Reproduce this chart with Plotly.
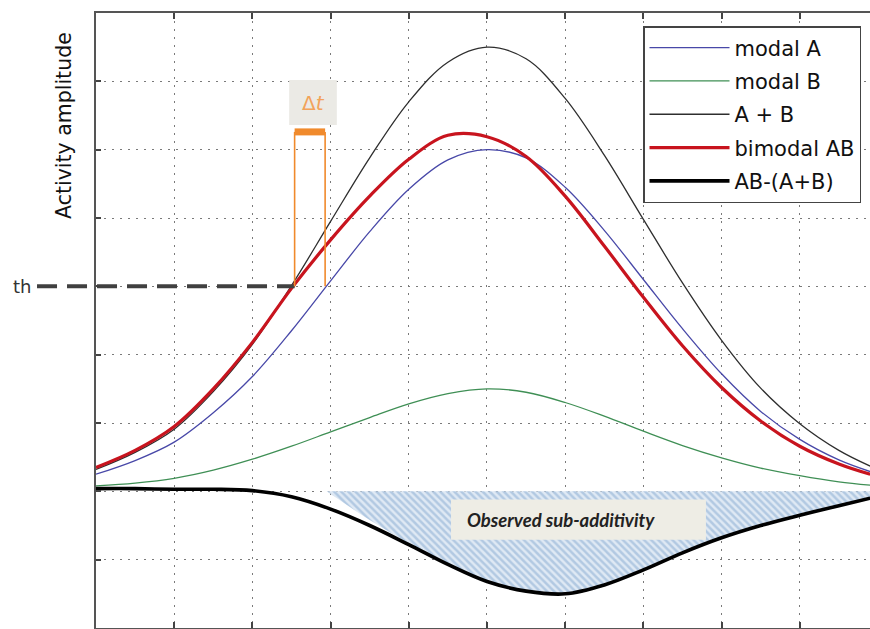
import plotly.graph_objects as go

# ---------------- data ----------------
t = [0, 0.5, 1, 1.5, 2, 2.5, 3, 3.5, 4, 4.5, 5, 5.5, 6, 6.5, 7, 7.5, 8, 8.5, 9, 9.5, 9.9]
modal_A = [0.25, 0.45, 0.72, 1.15, 1.68, 2.35, 3.08, 3.80, 4.42, 4.85, 5.00, 4.88, 4.45, 3.82, 3.10, 2.38, 1.72, 1.17, 0.76, 0.46, 0.29]
modal_B = [0.08, 0.12, 0.19, 0.31, 0.47, 0.66, 0.87, 1.08, 1.28, 1.43, 1.50, 1.45, 1.30, 1.10, 0.88, 0.67, 0.49, 0.34, 0.23, 0.14, 0.09]
A_plus_B = [0.32, 0.57, 0.91, 1.46, 2.15, 3.01, 3.95, 4.88, 5.70, 6.28, 6.50, 6.33, 5.75, 4.92, 3.98, 3.05, 2.21, 1.51, 0.99, 0.60, 0.37]
bimodal_AB = [0.35, 0.60, 0.95, 1.50, 2.18, 2.97, 3.68, 4.32, 4.86, 5.21, 5.19, 4.90, 4.32, 3.59, 2.84, 2.13, 1.52, 1.03, 0.66, 0.40, 0.25]
AB_minus = [0.04, 0.04, 0.03, 0.03, 0.01, -0.08, -0.26, -0.50, -0.78, -1.07, -1.32, -1.46, -1.50, -1.37, -1.15, -0.90, -0.68, -0.50, -0.35, -0.21, -0.10]

# shaded "observed sub-additivity" region
fill_t = [2.95, 3.5, 4.0, 4.5, 5.0, 5.5, 6.0, 6.5, 7.0, 7.5, 8.0, 8.5, 9.0, 9.5, 9.9]
fill_low = [0.0, -0.42, -0.76, -1.06, -1.31, -1.45, -1.49, -1.36, -1.14, -0.89, -0.67, -0.49, -0.34, -0.20, -0.09]
fill_top = [0.0] * len(fill_t)

th = 3.0          # threshold
t_AB = 2.54       # bimodal response crosses th
t_A = 2.93        # modal A crosses th
bar_level = 5.26  # level of the delta-t bracket

names = ["modal A", "modal B", "A + B", "bimodal AB", "AB-(A+B)"]
tick_x = [0, 1, 2, 3, 4, 5, 6, 7, 8, 9]
tick_y = [-2, -1, 0, 1, 2, 3, 4, 5, 6, 7]

# ---------------- layout constants ----------------
X_RANGE = [0, 9.898]
Y_RANGE = [-2, 7]

def px(v):
    return (v - X_RANGE[0]) / (X_RANGE[1] - X_RANGE[0])

def py(v):
    return (v - Y_RANGE[0]) / (Y_RANGE[1] - Y_RANGE[0])

fig = go.Figure()

fig.add_trace(go.Scatter(x=fill_t, y=fill_top, mode="lines", line=dict(width=0),
                         showlegend=False, hoverinfo="skip"))
fig.add_trace(go.Scatter(x=fill_t, y=fill_low, mode="lines", line=dict(width=0, shape="spline"),
                         fill="tonexty", fillcolor="rgba(255,255,255,0)",
                         fillpattern=dict(shape="\\", fgcolor="#86a9d0", bgcolor="#dfe9f4",
                                          size=5, solidity=0.5),
                         showlegend=False, hoverinfo="skip"))

styles = [
    (modal_A, "#4848a8", 1.3, 1),
    (modal_B, "#3f8f55", 1.3, 2),
    (A_plus_B, "#2e2e2e", 1.3, 3),
    (bimodal_AB, "#c8141e", 3.2, 4),
    (AB_minus, "#000000", 3.6, 5),
]
draw_order = [1, 0, 2, 3, 4]
for i in draw_order:
    ys, col, w, rank = styles[i]
    fig.add_trace(go.Scatter(x=t, y=ys, mode="lines", name=names[i],
                             line=dict(color=col, width=w, shape="spline"),
                             legendrank=rank, legendgroup=names[i]))

shapes = []
# threshold dashed line (extends left outside the axes)
shapes.append(dict(type="line", xref="paper", yref="paper",
                   x0=-0.0762, x1=px(t_AB), y0=py(th), y1=py(th),
                   line=dict(color="#404040", width=4, dash="20px,10px"), layer="above"))
# delta-t bracket
orange = "#f08a2c"
shapes.append(dict(type="line", xref="x", yref="y", x0=t_AB, x1=t_AB, y0=th, y1=bar_level,
                   line=dict(color=orange, width=1.6)))
shapes.append(dict(type="line", xref="x", yref="y", x0=t_A, x1=t_A, y0=th, y1=bar_level,
                   line=dict(color=orange, width=1.6)))
shapes.append(dict(type="line", xref="x", yref="y", x0=t_AB, x1=t_A, y0=bar_level, y1=bar_level,
                   line=dict(color=orange, width=7)))
# delta-t label box
shapes.append(dict(type="rect", xref="x", yref="y", x0=2.47, x1=3.08, y0=5.36, y1=6.02,
                   fillcolor="#ebeae5", line=dict(width=0)))
# sub-additivity label box
shapes.append(dict(type="rect", xref="x", yref="y", x0=4.54, x1=7.80, y0=-0.71, y1=-0.12,
                   fillcolor="#eeede5", line=dict(width=0)))

annotations = [
    dict(text="Δ<i>t</i>", x=2.775, y=5.69, xref="x", yref="y", showarrow=False,
         font=dict(family="DejaVu Sans", size=20, color="#f2a35a")),
    dict(text="<b><i>Observed sub-additivity</i></b>", x=4.72, y=-0.42, xref="x", yref="y",
         xanchor="left", yanchor="middle", showarrow=False,
         font=dict(family="Lato", size=18.5, color="#222222")),
    dict(text="th", x=-0.0814, y=py(th), xref="paper", yref="paper", xanchor="right",
         yanchor="middle", showarrow=False,
         font=dict(family="DejaVu Sans", size=18, color="#333333")),
    dict(text="Activity amplitude", x=-0.0413, y=0.8163, xref="paper", yref="paper",
         xanchor="center", yanchor="middle", textangle=-90, showarrow=False,
         font=dict(family="DejaVu Sans", size=20.5, color="#111111")),
]

axis_common = dict(showline=True, linecolor="#555555", linewidth=2, ticks="inside",
                   tickcolor="#444444", tickwidth=2, showticklabels=False,
                   showgrid=True, gridcolor="#7a7a7a", gridwidth=1, griddash="2px,6px",
                   zeroline=False)

fig.update_layout(
    width=870, height=629,
    margin=dict(l=96, r=0, t=13, b=1),
    paper_bgcolor="white", plot_bgcolor="white",
    xaxis=dict(range=X_RANGE, tickvals=tick_x, ticklen=6, mirror="ticks", **axis_common),
    yaxis=dict(range=Y_RANGE, tickvals=tick_y, ticklen=5, **axis_common),
    legend=dict(x=(643 - 96) / 774, y=(628 - 26) / 615, xanchor="left", yanchor="top",
                bgcolor="white", bordercolor="#444444", borderwidth=1.5,
                font=dict(family="DejaVu Sans", size=21, color="#111111"),
                itemwidth=80, tracegroupgap=3, traceorder="grouped"),
    shapes=shapes, annotations=annotations,
    showlegend=True,
)

# remove the browser's default 8px page margin so the figure fills the window exactly
page_fix = ("document.documentElement.style.overflow='hidden';"
            "document.body.style.margin='0';document.body.style.overflow='hidden';")
fig.write_html("out.html", post_script=page_fix, config={"displayModeBar": False})
